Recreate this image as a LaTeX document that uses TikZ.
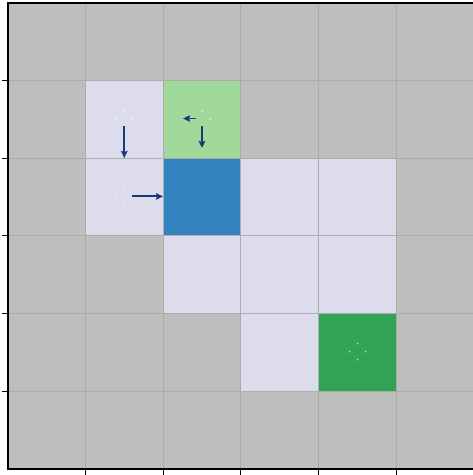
\documentclass[tikz,border=0pt]{standalone}
\usetikzlibrary{arrows.meta}
\definecolor{bg}{RGB}{190,190,190}
\definecolor{gridc}{RGB}{172,172,172}
\definecolor{lav}{RGB}{220,220,236}
\definecolor{lgreen}{RGB}{161,217,155}
\definecolor{dblue}{RGB}{49,130,189}
\definecolor{dgreen}{RGB}{49,163,84}
\definecolor{arr}{RGB}{22,58,122}
\tikzset{
  cellfill/.style={fill=#1, draw=none},
  gridline/.style={draw=gridc, line width=0.9pt},
  frame/.style={draw=black, line width=1.1pt},
  tick/.style={draw=black, line width=1pt},
  quiv/.style={draw=arr, line width=1.9pt, -{Stealth[length=7pt,width=6.5pt,inset=1pt]}},
  dot/.style={fill=white, fill opacity=0.55, draw=none}
}
\newcommand{\cellat}[3]{\fill[cellfill=#3] ({8+77.6*#1},{3+77.6*#2}) rectangle ({8+77.6*(#1+1)},{3+77.6*(#2+1)});}
\begin{document}
\begin{tikzpicture}[x=1pt,y=-1pt]
\useasboundingbox (0,0) rectangle (473,475);
\fill[bg] (8,3) rectangle (473.6,469);
% cells
\cellat{1}{1}{lav}
\cellat{2}{1}{lgreen}
\cellat{1}{2}{lav}
\cellat{2}{2}{dblue}
\cellat{3}{2}{lav}
\cellat{4}{2}{lav}
\cellat{2}{3}{lav}
\cellat{3}{3}{lav}
\cellat{4}{3}{lav}
\cellat{3}{4}{lav}
\cellat{4}{4}{dgreen}
% grid
\foreach \k in {1,...,5}{
  \draw[gridline] ({8+77.6*\k},3) -- ({8+77.6*\k},469);
  \draw[gridline] (8,{3+77.6*\k}) -- (473.6,{3+77.6*\k});
}
% dots
\foreach \cx/\cy in {124.3/118.8, 202/118.8, 124.3/196.4, 357.6/351.6}{
  \foreach \dx/\dy in {0/-8, -8/0, 8/0, 0/8}{
    \fill[dot] ({\cx+\dx},{\cy+\dy}) circle (1.1);
  }
}
% arrows
\coordinate (a1s) at (124.3,126); \coordinate (a1e) at (124.3,158);
\coordinate (a2s) at (196,118.5); \coordinate (a2e) at (183,118.5);
\coordinate (a3s) at (202,126);   \coordinate (a3e) at (202,148);
\coordinate (a4s) at (132,196.4); \coordinate (a4e) at (163,196.4);
\draw[quiv] (a1s) -- (a1e);
\draw[quiv] (a2s) -- (a2e);
\draw[quiv] (a3s) -- (a3e);
\draw[quiv] (a4s) -- (a4e);
% frame
\draw[frame] (8,3) rectangle (473.6,469);
% ticks
\foreach \k in {1,...,5}{
  \draw[tick] (2,{3+77.6*\k}) -- (8,{3+77.6*\k});
  \draw[tick] ({8+77.6*\k},469) -- ({8+77.6*\k},475);
}
\end{tikzpicture}
\end{document}
